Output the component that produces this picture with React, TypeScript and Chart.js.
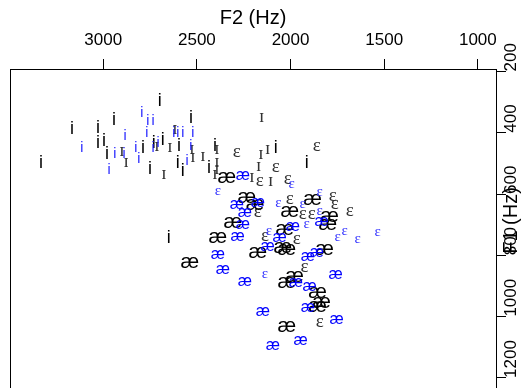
import React, { useEffect, useRef } from "react";
import { Chart, registerables } from "chart.js";

Chart.register(...registerables);

const xTickValues = [1000, 1500, 2000, 2500, 3000];
const yTickValues = [200, 400, 600, 800, 1000, 1200];
const xTitle = "F2 (Hz)";
const yTitle = "F1 (Hz)";

// Vowel tokens: F2 (Hz) and F1 (Hz)
const iBlackF2 = [3332, 3167, 3028, 2943, 2698, 2532, 3028, 2996, 2980, 2788, 2751, 2730, 2682, 2596, 2602, 2575, 2436, 2404, 2079, 1914, 2650];
const iBlackF1 = [494, 383, 380, 354, 292, 347, 429, 422, 465, 445, 514, 429, 419, 439, 494, 520, 510, 440, 445, 494, 739];

const iBlueF2 = [3114, 2794, 2762, 2734, 2938, 2884, 2889, 2969, 2826, 2810, 2767, 2734, 2708, 2623, 2602, 2575, 2522, 2553, 2532];
const iBlueF1 = [448, 331, 357, 357, 465, 406, 465, 517, 445, 481, 399, 448, 429, 399, 399, 399, 399, 488, 439];

const ihBlackF2 = [2900, 2878, 2714, 2676, 2644, 2618, 2527, 2521, 2468, 2393, 2154, 2393, 2122, 2159, 2393, 2170, 2404, 2207, 2106];
const ihBlackF1 = [461, 497, 445, 537, 448, 390, 455, 481, 478, 520, 350, 455, 455, 471, 497, 510, 537, 546, 559];

const ehBlackF2 = [2287, 1860, 2079, 2164, 2015, 1775, 2004, 1764, 1684, 1887, 1935, 2137, 1967, 1925, 1844, 2175];
const ehBlackF1 = [465, 445, 514, 559, 553, 608, 618, 635, 658, 667, 667, 739, 749, 841, 1020, 661];

const ehBlueF2 = [1994, 2388, 1844, 2065, 1935, 1844, 1914, 2116, 1711, 1748, 1642, 1535, 2137];
const ehBlueF1 = [569, 592, 595, 631, 635, 658, 700, 723, 723, 742, 749, 726, 863];

const aeBlackF2 = [2340, 2234, 2190, 2004, 1882, 1791, 1801, 2308, 2031, 2388, 2041, 2020, 2175, 1818, 2538, 1978, 2020, 1855, 1834, 1855, 2020];
const aeBlackF1 = [546, 612, 635, 658, 618, 674, 700, 693, 716, 742, 775, 782, 792, 782, 824, 870, 890, 922, 955, 968, 1033];

const aeBlueF2 = [2255, 2175, 2287, 2244, 1834, 2255, 1988, 2282, 2058, 2122, 1908, 1860, 2388, 2362, 2244, 1972, 1898, 1759, 1908, 2148, 1754, 1946, 2095];
const aeBlueF1 = [540, 628, 635, 661, 690, 700, 707, 739, 742, 772, 805, 792, 798, 847, 886, 890, 903, 863, 971, 984, 1010, 1079, 1095];

const SANS = "'Liberation Sans', Arial, Helvetica, sans-serif";
const SERIF = "'Liberation Serif', 'DejaVu Serif', 'Times New Roman', serif";

type Glyph = { glyph: string; family: string; size: number; color: string; center: number };

function pts(f2: number[], f1: number[]) {
  return f2.map((v, i) => ({ x: v, y: f1[i] }));
}

function makeDataset(label: string, f2: number[], f1: number[], g: Glyph) {
  return {
    label,
    data: pts(f2, f1),
    pointRadius: 0,
    pointHoverRadius: 0,
    showLine: false,
    glyphStyle: g,
  } as any;
}

const glyphPlugin = {
  id: "glyphs",
  afterDatasetsDraw(chart: any) {
    const ctx = chart.ctx as CanvasRenderingContext2D;
    const a = chart.chartArea;
    ctx.save();
    ctx.beginPath();
    ctx.rect(a.left, a.top, a.right - a.left, a.bottom - a.top);
    ctx.clip();
    chart.data.datasets.forEach((ds: any, i: number) => {
      const g: Glyph = ds.glyphStyle;
      const meta = chart.getDatasetMeta(i);
      ctx.font = `${g.size}px ${g.family}`;
      ctx.fillStyle = g.color;
      ctx.textAlign = "center";
      ctx.textBaseline = "alphabetic";
      meta.data.forEach((p: any) => {
        ctx.fillText(g.glyph, p.x, p.y + g.size * g.center);
      });
    });
    ctx.restore();
  },
  afterDraw(chart: any) {
    const ctx = chart.ctx as CanvasRenderingContext2D;
    const s = chart.scales.y;
    const a = chart.chartArea;
    ctx.save();
    ctx.translate(s.left + 15, (a.top + a.bottom) / 2 - 8);
    ctx.rotate(-Math.PI / 2);
    ctx.font = `20px ${SANS}`;
    ctx.fillStyle = "#000";
    ctx.textAlign = "center";
    ctx.textBaseline = "middle";
    ctx.fillText(yTitle, 0, 0);
    ctx.restore();
  },
};

const plainLabel = (v: any) => String(v);

export default function App() {
  const ref = useRef<HTMLCanvasElement>(null);
  useEffect(() => {
    if (!ref.current) return;
    Chart.defaults.font.family = SANS;
    const chart = new Chart(ref.current, {
      type: "scatter",
      data: {
        datasets: [
          makeDataset("ɪ", ihBlackF2, ihBlackF1, { glyph: "ɪ", family: SERIF, size: 19, color: "#333", center: 0.24 }),
          makeDataset("i", iBlackF2, iBlackF1, { glyph: "i", family: SANS, size: 18, color: "#000", center: 0.36 }),
          makeDataset("ɛ", ehBlackF2, ehBlackF1, { glyph: "ɛ", family: SERIF, size: 19, color: "#333", center: 0.23 }),
          makeDataset("æ", aeBlackF2, aeBlackF1, { glyph: "æ", family: SANS, size: 21, color: "#000", center: 0.26 }),
          makeDataset("i2", iBlueF2, iBlueF1, { glyph: "i", family: SANS, size: 14, color: "#1a1aff", center: 0.36 }),
          makeDataset("ɛ2", ehBlueF2, ehBlueF1, { glyph: "ɛ", family: SERIF, size: 15, color: "#3333ff", center: 0.23 }),
          makeDataset("æ2", aeBlueF2, aeBlueF1, { glyph: "æ", family: SANS, size: 16, color: "#0000ff", center: 0.26 }),
        ],
      },
      options: {
        responsive: false,
        animation: false,
        devicePixelRatio: 1,
        layout: { padding: 0 },
        plugins: { legend: { display: false }, tooltip: { enabled: false } },
        events: [],
        scales: {
          x: {
            type: "linear",
            position: "top",
            reverse: true,
            min: 903,
            max: 3498,
            afterBuildTicks: (s: any) => {
              s.ticks = xTickValues.map((v) => ({ value: v }));
            },
            afterFit: (s: any) => {
              s.height = 69;
              s.paddingLeft = 0;
              s.paddingRight = 0;
              s.paddingTop = 0;
              s.paddingBottom = 0;
            },
            ticks: { font: { size: 17 }, color: "#000", padding: 8, autoSkip: false, maxRotation: 0, callback: plainLabel },
            grid: { drawOnChartArea: false, drawTicks: true, tickLength: 10, color: "#000" },
            border: { display: true, color: "#000" },
            title: { display: true, text: xTitle, font: { size: 20 }, color: "#000", padding: { top: 6, bottom: 0 } },
          },
          y: {
            type: "linear",
            position: "right",
            reverse: true,
            min: 192,
            max: 1233,
            afterBuildTicks: (s: any) => {
              s.ticks = yTickValues.map((v) => ({ value: v }));
            },
            afterFit: (s: any) => {
              s.width = 27;
              s.paddingLeft = 0;
              s.paddingRight = 0;
              s.paddingTop = 0;
              s.paddingBottom = 0;
            },
            ticks: { font: { size: 17 }, color: "#000", padding: 5, autoSkip: false, minRotation: 90, maxRotation: 90, callback: plainLabel },
            grid: { drawOnChartArea: false, drawTicks: true, tickLength: 10, color: "#000" },
            border: { display: true, color: "#000" },
          },
          yLeft: {
            type: "linear",
            position: "left",
            display: true,
            afterFit: (s: any) => {
              s.width = 10;
              s.paddingTop = 0;
              s.paddingBottom = 0;
            },
            ticks: { display: false },
            grid: { drawOnChartArea: false, drawTicks: false },
            border: { display: true, color: "#000" },
          },
        },
      } as any,
      plugins: [glyphPlugin],
    });
    return () => chart.destroy();
  }, []);
  return (
    <div style={{ position: "fixed", left: 0, top: 0, width: 523, height: 388, background: "#fff" }}>
      <canvas ref={ref} width={523} height={388} style={{ display: "block" }} />
    </div>
  );
}
